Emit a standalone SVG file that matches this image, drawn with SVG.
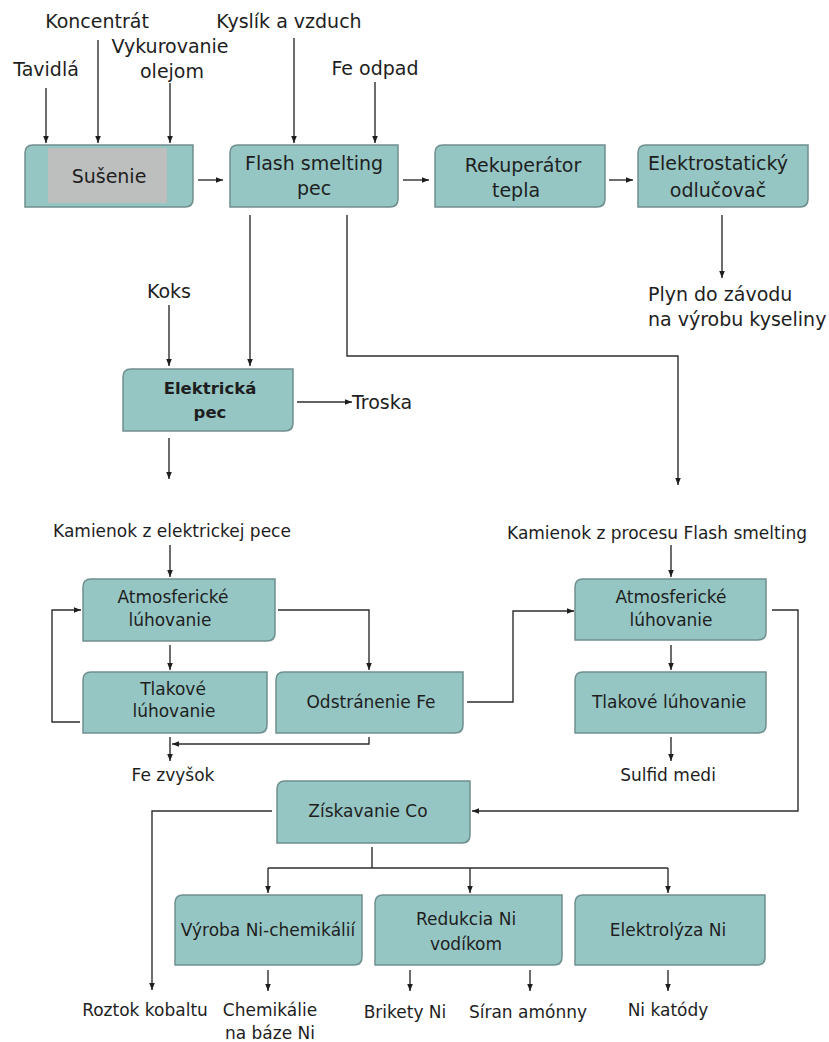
<svg xmlns="http://www.w3.org/2000/svg" width="829" height="1042" viewBox="0 0 829 1042">
<defs>
<style>
text{font-family:"DejaVu Sans","Liberation Sans",sans-serif;fill:#1e1e1e;font-size:17px;text-anchor:middle}
.t19{font-size:19px}
.lbl{font-size:17px}
.st{text-anchor:start}
.b{font-weight:bold;font-size:16.5px}
.box{fill:#95c6c4;stroke:#6f8f8e;stroke-width:1.5}
.c{fill:none;stroke:#2e2e2e;stroke-width:1.4;marker-end:url(#ah)}
.n{fill:none;stroke:#2e2e2e;stroke-width:1.4}
</style>
<marker id="ah" viewBox="0 0 10 10" refX="10" refY="5" markerWidth="7" markerHeight="7" orient="auto" markerUnits="userSpaceOnUse">
<path d="M0,1 L10,5 L0,9 Z" fill="#1e1e1e"/>
</marker>
</defs>
<rect width="829" height="1042" fill="#ffffff"/>

<g id="inputs">
<text x="46" y="76" class="t19">Tavidlá</text>
<text x="97" y="28" class="t19">Koncentrát</text>
<text x="170" y="53" class="t19">Vykurovanie</text>
<text x="172" y="78" class="t19">olejom</text>
<text x="289" y="28" class="t19">Kyslík a vzduch</text>
<text x="375" y="75" class="t19">Fe odpad</text>
</g>

<g id="susenie">
<path class="box" d="M33,145 H193 V199 Q193,207 185,207 H25 V153 Q25,145 33,145 Z"/>
<rect x="48" y="148" width="119" height="55" fill="#bdbfbf"/>
<text x="109" y="183" class="t19">Sušenie</text>
</g>
<g id="flash">
<path class="box" d="M238,145 H398 V199 Q398,207 390,207 H230 V153 Q230,145 238,145 Z"/>
<text x="314" y="170" class="t19">Flash smelting</text>
<text x="314" y="195" class="t19">pec</text>
</g>
<g id="rekuperator">
<path class="box" d="M443,145 H605 V199 Q605,207 597,207 H435 V153 Q435,145 443,145 Z"/>
<text x="523" y="172" class="t19">Rekuperátor</text>
<text x="516" y="197" class="t19">tepla</text>
</g>
<g id="elektrostaticky">
<path class="box" d="M646,145 H808 V199 Q808,207 800,207 H638 V153 Q638,145 646,145 Z"/>
<text x="718" y="170" class="t19">Elektrostatický</text>
<text x="718" y="197" class="t19">odlučovač</text>
</g>
<g id="plyn">
<text x="648" y="301" class="t19 st">Plyn do závodu</text>
<text x="648" y="326" class="t19 st">na výrobu kyseliny</text>
</g>
<g id="koks"><text x="169" y="298" class="t19">Koks</text></g>
<g id="elektricka">
<path class="box" d="M131,369 H293 V423 Q293,431 285,431 H123 V377 Q123,369 131,369 Z"/>
<text x="210" y="394" class="b">Elektrická</text>
<text x="210" y="418" class="b">pec</text>
</g>
<g id="troska"><text x="352" y="409" class="t19 st">Troska</text></g>

<g id="kamienok-l"><text x="172" y="537" class="lbl">Kamienok z elektrickej pece</text></g>
<g id="atmos-l">
<path class="box" d="M91,579 H275 V633 Q275,641 267,641 H83 V587 Q83,579 91,579 Z"/>
<text x="173" y="603">Atmosferické</text>
<text x="170" y="626">lúhovanie</text>
</g>
<g id="tlak-l">
<path class="box" d="M91,672 H267 V725 Q267,733 259,733 H83 V680 Q83,672 91,672 Z"/>
<text x="173" y="695">Tlakové</text>
<text x="174" y="717">lúhovanie</text>
</g>
<g id="odstranenie">
<path class="box" d="M284,672 H463 V725 Q463,733 455,733 H276 V680 Q276,672 284,672 Z"/>
<text x="371" y="708">Odstránenie Fe</text>
</g>
<g id="fezvysok"><text x="173" y="781">Fe zvyšok</text></g>

<g id="kamienok-r"><text x="657" y="539" class="lbl">Kamienok z procesu Flash smelting</text></g>
<g id="atmos-r">
<path class="box" d="M583,579 H766 V632 Q766,640 758,640 H575 V587 Q575,579 583,579 Z"/>
<text x="671" y="603">Atmosferické</text>
<text x="671" y="626">lúhovanie</text>
</g>
<g id="tlak-r">
<path class="box" d="M583,672 H766 V725 Q766,733 758,733 H575 V680 Q575,672 583,672 Z"/>
<text x="669" y="708">Tlakové lúhovanie</text>
</g>
<g id="sulfid"><text x="668" y="781">Sulfid medi</text></g>

<g id="ziskavanie">
<path class="box" d="M285,781 H470 V835 Q470,843 462,843 H277 V789 Q277,781 285,781 Z"/>
<text x="368" y="817">Získavanie Co</text>
</g>
<g id="vyroba">
<path class="box" d="M183,895 H362 V957 Q362,965 354,965 H175 V903 Q175,895 183,895 Z"/>
<text x="268" y="936">Výroba Ni-chemikálií</text>
</g>
<g id="redukcia">
<path class="box" d="M383,895 H562 V957 Q562,965 554,965 H375 V903 Q375,895 383,895 Z"/>
<text x="466" y="925">Redukcia Ni</text>
<text x="466" y="950">vodíkom</text>
</g>
<g id="elektrolyza">
<path class="box" d="M583,895 H765 V957 Q765,965 757,965 H575 V903 Q575,895 583,895 Z"/>
<text x="668" y="936">Elektrolýza Ni</text>
</g>
<g id="outputs">
<text x="145" y="1016">Roztok kobaltu</text>
<text x="270" y="1016">Chemikálie</text>
<text x="270" y="1039">na báze Ni</text>
<text x="405" y="1018">Brikety Ni</text>
<text x="528" y="1018">Síran amónny</text>
<text x="668" y="1016">Ni katódy</text>
</g>

<g id="connectors">
<path class="c" d="M46,88 V143"/>
<path class="c" d="M98,40 V143"/>
<path class="c" d="M170,83 V143"/>
<path class="c" d="M294,38 V143"/>
<path class="c" d="M375,82 V143"/>
<path class="c" d="M198,180 H223"/>
<path class="c" d="M403,180 H429"/>
<path class="c" d="M609,180 H633"/>
<path class="c" d="M722,215 V278"/>
<path class="c" d="M250,215 V366"/>
<path class="c" d="M347,215 V356 H678 V485"/>
<path class="c" d="M169,305 V366"/>
<path class="c" d="M297,402 H352"/>
<path class="c" d="M169,438 V479"/>
<path class="c" d="M170,545 V577"/>
<path class="c" d="M170,645 V670"/>
<path class="c" d="M80,722 H52 V610 H81"/>
<path class="c" d="M278,610 H369 V670"/>
<path class="c" d="M369,737 V744 H172"/>
<path class="c" d="M170,737 V761"/>
<path class="c" d="M467,702 H513 V611 H574"/>
<path class="c" d="M671,545 V577"/>
<path class="c" d="M671,645 V670"/>
<path class="c" d="M671,737 V761"/>
<path class="c" d="M772,610 H798 V811 H472"/>
<path class="c" d="M272,811 H152 V990"/>
<path class="n" d="M372,847 V868 M268,868 H668"/>
<path class="c" d="M268,868 V893"/>
<path class="c" d="M470,868 V893"/>
<path class="c" d="M668,868 V893"/>
<path class="c" d="M268,970 V991"/>
<path class="c" d="M410,970 V991"/>
<path class="c" d="M530,970 V991"/>
<path class="c" d="M668,970 V991"/>
</g>
</svg>
